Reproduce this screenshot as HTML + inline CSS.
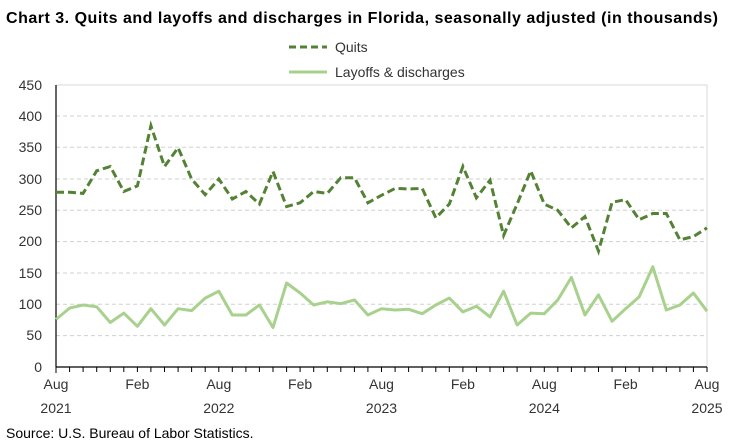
<!DOCTYPE html>
<html><head><meta charset="utf-8"><style>
body{margin:0;background:#fff;}
svg{display:block;font-family:"Liberation Sans",Arial,sans-serif;}
</style></head><body>
<svg width="750" height="446" viewBox="0 0 750 446">
<rect width="750" height="446" fill="#fff"/>
<text x="6" y="23" font-size="16" font-weight="bold" fill="#000" textLength="712" lengthAdjust="spacing">Chart 3. Quits and layoffs and discharges in Florida, seasonally adjusted (in thousands)</text>
<line x1="289" y1="47" x2="327" y2="47" stroke="#548235" stroke-width="3" stroke-dasharray="7,4"/>
<text x="335" y="52" font-size="14" fill="#333">Quits</text>
<line x1="289" y1="72" x2="327" y2="72" stroke="#a9d18e" stroke-width="3"/>
<text x="335" y="77" font-size="14" fill="#333">Layoffs &amp; discharges</text>
<g stroke="#d0d0d0" stroke-width="1" stroke-dasharray="4,3">
<line x1="56" x2="707" y1="116" y2="116"/><line x1="56" x2="707" y1="147.3" y2="147.3"/>
<line x1="56" x2="707" y1="179" y2="179"/><line x1="56" x2="707" y1="210.3" y2="210.3"/>
<line x1="56" x2="707" y1="241.6" y2="241.6"/><line x1="56" x2="707" y1="273" y2="273"/>
<line x1="56" x2="707" y1="304.3" y2="304.3"/><line x1="56" x2="707" y1="335.6" y2="335.6"/>
</g>
<polyline points="56,85 707,85 707,367" fill="none" stroke="#d9d9d9" stroke-width="1"/>
<line x1="56" y1="85" x2="56" y2="367" stroke="#000" stroke-width="1.2"/>
<line x1="56" y1="367" x2="707" y2="367" stroke="#000" stroke-width="1.2"/>
<g font-size="14" fill="#333" text-anchor="end">
<text x="42" y="90">450</text><text x="42" y="121">400</text><text x="42" y="152">350</text>
<text x="42" y="184">300</text><text x="42" y="215">250</text><text x="42" y="246">200</text>
<text x="42" y="278">150</text><text x="42" y="309">100</text><text x="42" y="340">50</text>
<text x="42" y="372">0</text>
</g>
<g stroke="#000" stroke-width="1">
<path d="M56,367v6M69.6,367v5M83.1,367v5M96.7,367v5M110.3,367v5M123.8,367v5M137.4,367v5M150.9,367v5M164.5,367v5M178.1,367v5M191.6,367v5M205.2,367v5M218.8,367v5M232.3,367v5M245.9,367v5M259.4,367v5M273,367v5M286.6,367v5M300.1,367v5M313.7,367v5M327.3,367v5M340.8,367v5M354.4,367v5M367.9,367v5M381.5,367v5M395.1,367v5M408.6,367v5M422.2,367v5M435.8,367v5M449.3,367v5M462.9,367v5M476.4,367v5M490,367v5M503.6,367v5M517.1,367v5M530.7,367v5M544.3,367v5M557.8,367v5M571.4,367v5M584.9,367v5M598.5,367v5M612.1,367v5M625.6,367v5M639.2,367v5M652.8,367v5M666.3,367v5M679.9,367v5M693.4,367v5M707,367v5"/>
</g>
<g font-size="14" fill="#333" text-anchor="middle">
<text x="56" y="389">Aug</text><text x="56" y="413">2021</text>
<text x="137.4" y="389">Feb</text>
<text x="218.8" y="389">Aug</text><text x="218.8" y="413">2022</text>
<text x="300.1" y="389">Feb</text>
<text x="381.5" y="389">Aug</text><text x="381.5" y="413">2023</text>
<text x="462.9" y="389">Feb</text>
<text x="544.3" y="389">Aug</text><text x="544.3" y="413">2024</text>
<text x="625.6" y="389">Feb</text>
<text x="707" y="389">Aug</text><text x="707" y="413">2025</text>
</g>
<polyline fill="none" stroke="#a9d18e" stroke-width="3" stroke-linejoin="round" points="56,319.4 69.6,308.1 83.1,305 96.7,306.8 110.3,322.5 123.8,313.1 137.4,326.3 150.9,308.7 164.5,325 178.1,308.7 191.6,310.6 205.2,298.1 218.8,291.2 232.3,315 245.9,315 259.4,305 273,327.5 286.6,283 300.1,293 313.7,305 327.3,301.8 340.8,303.7 354.4,299.9 367.9,315 381.5,308.7 395.1,310 408.6,309.3 422.2,313.7 435.8,305 449.3,298.1 462.9,311.9 476.4,306.2 490,316.9 503.6,291.2 517.1,325 530.7,313.1 544.3,313.7 557.8,299.9 571.4,277.4 584.9,315 598.5,294.9 612.1,321.3 625.6,308.7 639.2,296.8 652.8,266.7 666.3,310 679.9,305 693.4,293 707,311.2"/>
<polyline fill="none" stroke="#548235" stroke-width="3" stroke-dasharray="8,4" points="56,192.2 69.6,192.2 83.1,193.4 96.7,170.8 110.3,166.5 123.8,191.5 137.4,185.9 150.9,125.7 164.5,166.5 178.1,147.7 191.6,179 205.2,194.7 218.8,179 232.3,199 245.9,191.5 259.4,204.1 273,171.5 286.6,206.6 300.1,202.8 313.7,191.5 327.3,193.4 340.8,177.7 354.4,177.7 367.9,202.8 381.5,195.3 395.1,188.4 408.6,189 422.2,188.4 435.8,217.8 449.3,204.1 462.9,166.5 476.4,197.8 490,180.2 503.6,235.4 517.1,204.1 530.7,170.8 544.3,204.1 557.8,210.3 571.4,227.9 584.9,216.6 598.5,251.1 612.1,202.2 625.6,199.7 639.2,219.7 652.8,213.5 666.3,213.5 679.9,239.8 693.4,236.6 707,227.9"/>
<text x="6" y="438" font-size="14" fill="#000">Source: U.S. Bureau of Labor Statistics.</text>
</svg>
</body></html>
